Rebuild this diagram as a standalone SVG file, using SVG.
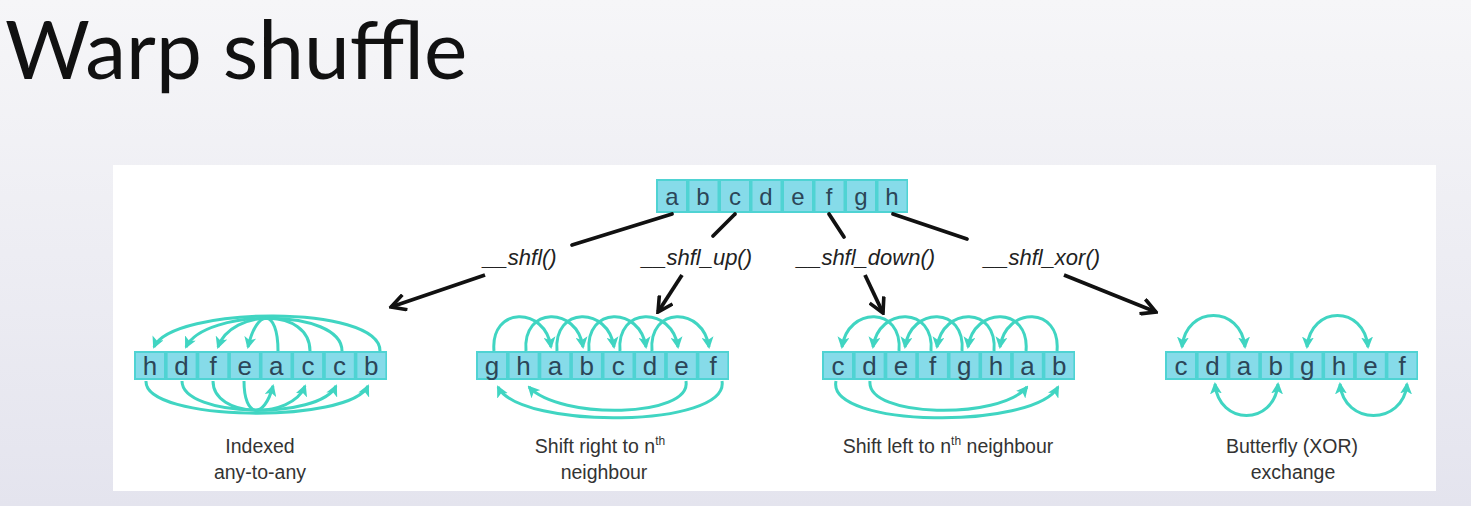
<svg xmlns="http://www.w3.org/2000/svg" width="1471" height="506" viewBox="0 0 1471 506">
<defs>
<linearGradient id="bg" x1="0" y1="0" x2="0" y2="1">
<stop offset="0" stop-color="#f6f6f8"/>
<stop offset="1" stop-color="#e4e4ee"/>
</linearGradient>
<marker id="ta" viewBox="0 0 12 12" refX="10" refY="6" markerWidth="12" markerHeight="12" markerUnits="userSpaceOnUse" orient="auto-start-reverse">
<path d="M0,0 L12,6 L0,12 L3,6 z" fill="#40d5c2"/>
</marker>
<marker id="ba" viewBox="0 0 16 16" refX="14" refY="8" markerWidth="18" markerHeight="18" markerUnits="userSpaceOnUse" orient="auto">
<path d="M1,1 L14,8 L1,15" fill="none" stroke="#111" stroke-width="3.2" stroke-linejoin="miter"/>
</marker>
</defs>
<style>
.cellbox{fill:#4fd3d3}
.cell{fill:#86dbe9}
.lt{font-family:"Liberation Sans",Arial,sans-serif;fill:#2c4658;text-anchor:middle}
.lt1{font-size:24px}
.lt2{font-size:26px}
.arc{fill:none;stroke:#40d5c2;stroke-width:3;marker-end:url(#ta)}
.arc2{fill:none;stroke:#40d5c2;stroke-width:3;marker-end:url(#ta);marker-start:url(#ta)}
.con{stroke:#111;stroke-width:3.8;fill:none;stroke-linecap:round}
.arw{stroke:#111;stroke-width:3.8;fill:none;marker-end:url(#ba)}
.fn{font-family:"Liberation Sans",Arial,sans-serif;font-style:italic;font-size:22px;fill:#222;text-anchor:middle}
.cap{font-family:"Liberation Sans",Arial,sans-serif;font-size:19.5px;fill:#333;text-anchor:middle}
.sup{font-size:12px}
</style>
<rect width="1471" height="506" fill="url(#bg)"/>
<text x="5" y="79" font-family="Lato,'Open Sans',sans-serif" font-size="82" fill="#111">Warp shuffle</text>
<rect x="113" y="165" width="1323" height="326" fill="#ffffff"/>

<g id="source">
<rect class="cellbox" x="656" y="179" width="252" height="34"/>
<rect class="cell" x="658" y="181" width="28" height="30"/>
<rect class="cell" x="689.5" y="181" width="28" height="30"/>
<rect class="cell" x="721" y="181" width="28" height="30"/>
<rect class="cell" x="752.5" y="181" width="28" height="30"/>
<rect class="cell" x="784" y="181" width="28" height="30"/>
<rect class="cell" x="815.5" y="181" width="28" height="30"/>
<rect class="cell" x="847" y="181" width="28" height="30"/>
<rect class="cell" x="878.5" y="181" width="28" height="30"/>
<text class="lt lt1" y="204.5"><tspan x="672">a</tspan><tspan x="703">b</tspan><tspan x="735">c</tspan><tspan x="766">d</tspan><tspan x="798">e</tspan><tspan x="829">f</tspan><tspan x="861">g</tspan><tspan x="892">h</tspan></text>
</g>

<g id="connectors">
<line class="con" x1="672" y1="214" x2="572" y2="245"/>
<line class="con" x1="735" y1="214" x2="713" y2="236"/>
<line class="con" x1="829" y1="214" x2="844" y2="237"/>
<line class="con" x1="893" y1="214" x2="967" y2="239"/>
<line class="arw" x1="485" y1="275" x2="391" y2="307"/>
<line class="arw" x1="682" y1="275" x2="658" y2="312"/>
<line class="arw" x1="865" y1="275" x2="883" y2="313"/>
<line class="arw" x1="1064" y1="275" x2="1156" y2="312"/>
<text class="fn" x="520" y="265">__shfl()</text>
<text class="fn" x="697" y="265">__shfl_up()</text>
<text class="fn" x="866" y="265">__shfl_down()</text>
<text class="fn" x="1042" y="265">__shfl_xor()</text>
</g>

<g id="indexed">
<rect class="cellbox" x="134" y="351" width="253" height="29"/>
<rect class="cell" x="136" y="353" width="28" height="25"/>
<rect class="cell" x="167.6" y="353" width="28" height="25"/>
<rect class="cell" x="199.3" y="353" width="28" height="25"/>
<rect class="cell" x="230.9" y="353" width="28" height="25"/>
<rect class="cell" x="262.5" y="353" width="28" height="25"/>
<rect class="cell" x="294.1" y="353" width="28" height="25"/>
<rect class="cell" x="325.8" y="353" width="28" height="25"/>
<rect class="cell" x="357.4" y="353" width="28" height="25"/>
<text class="lt lt2" y="375"><tspan x="150">h</tspan><tspan x="181.4">d</tspan><tspan x="213.1">f</tspan><tspan x="244.7">e</tspan><tspan x="276.3">a</tspan><tspan x="307.9">c</tspan><tspan x="339.6">c</tspan><tspan x="371.2">b</tspan></text>
<path class="arc" d="M380 351 C380 304,172 306,154 347"/>
<path class="arc" d="M342 351 C342 308,205 308,186 347"/>
<path class="arc" d="M310 351 C310 308,232 308,218 347"/>
<path class="arc" d="M278 351 C278 308,257 308,248 347"/>
<path class="arc" d="M146 381 C144 422,350 424,368 386"/>
<path class="arc" d="M182 381 C182 418,320 420,336 386"/>
<path class="arc" d="M213 381 C213 418,292 420,305 386"/>
<path class="arc" d="M244 381 C244 418,264 420,273 386"/>
<text class="cap" x="260" y="453">Indexed</text>
<text class="cap" x="260" y="479">any-to-any</text>
</g>

<g id="shift-up">
<rect class="cellbox" x="476" y="351" width="253" height="29"/>
<rect class="cell" x="478" y="353" width="28" height="25"/>
<rect class="cell" x="509.6" y="353" width="28" height="25"/>
<rect class="cell" x="541.3" y="353" width="28" height="25"/>
<rect class="cell" x="572.9" y="353" width="28" height="25"/>
<rect class="cell" x="604.5" y="353" width="28" height="25"/>
<rect class="cell" x="636.1" y="353" width="28" height="25"/>
<rect class="cell" x="667.8" y="353" width="28" height="25"/>
<rect class="cell" x="699.4" y="353" width="28" height="25"/>
<text class="lt lt2" y="375"><tspan x="492">g</tspan><tspan x="523.4">h</tspan><tspan x="555.1">a</tspan><tspan x="586.7">b</tspan><tspan x="618.3">c</tspan><tspan x="649.9">d</tspan><tspan x="681.6">e</tspan><tspan x="713.2">f</tspan></text>
<path class="arc" d="M494 351 C490 306,545 306,551 347"/>
<path class="arc" d="M526 351 C522 306,577 306,583 347"/>
<path class="arc" d="M557 351 C553 306,608 306,614 347"/>
<path class="arc" d="M589 351 C585 306,640 306,646 347"/>
<path class="arc" d="M620 351 C616 306,672 306,678 347"/>
<path class="arc" d="M652 351 C648 306,703 306,709 347"/>
<path class="arc" d="M722 381 C730 428,520 430,498 387"/>
<path class="arc" d="M686 381 C692 418,560 420,529 387"/>
<text class="cap" x="600" y="453">Shift right to n<tspan class="sup" dy="-8">th</tspan></text>
<text class="cap" x="604" y="479">neighbour</text>
</g>

<g id="shift-down">
<rect class="cellbox" x="822" y="351" width="253" height="29"/>
<rect class="cell" x="824" y="353" width="28" height="25"/>
<rect class="cell" x="855.6" y="353" width="28" height="25"/>
<rect class="cell" x="887.3" y="353" width="28" height="25"/>
<rect class="cell" x="918.9" y="353" width="28" height="25"/>
<rect class="cell" x="950.5" y="353" width="28" height="25"/>
<rect class="cell" x="982.1" y="353" width="28" height="25"/>
<rect class="cell" x="1013.8" y="353" width="28" height="25"/>
<rect class="cell" x="1045.4" y="353" width="28" height="25"/>
<text class="lt lt2" y="375"><tspan x="838">c</tspan><tspan x="869.4">d</tspan><tspan x="901.1">e</tspan><tspan x="932.7">f</tspan><tspan x="964.3">g</tspan><tspan x="995.9">h</tspan><tspan x="1027.6">a</tspan><tspan x="1059.2">b</tspan></text>
<path class="arc" d="M899 351 C903 306,848 306,842 347"/>
<path class="arc" d="M931 351 C935 306,879 306,873 347"/>
<path class="arc" d="M962 351 C966 306,911 306,905 347"/>
<path class="arc" d="M994 351 C998 306,943 306,937 347"/>
<path class="arc" d="M1026 351 C1030 306,974 306,968 347"/>
<path class="arc" d="M1057 351 C1061 306,1006 306,1000 347"/>
<path class="arc" d="M836 381 C826 428,1034 430,1058 387"/>
<path class="arc" d="M870 381 C866 418,1000 420,1027 387"/>
<text class="cap" x="948" y="453">Shift left to n<tspan class="sup" dy="-8">th</tspan><tspan dy="8"> neighbour</tspan></text>
</g>

<g id="butterfly">
<rect class="cellbox" x="1165" y="351" width="253" height="29"/>
<rect class="cell" x="1167" y="353" width="28" height="25"/>
<rect class="cell" x="1198.6" y="353" width="28" height="25"/>
<rect class="cell" x="1230.3" y="353" width="28" height="25"/>
<rect class="cell" x="1261.9" y="353" width="28" height="25"/>
<rect class="cell" x="1293.5" y="353" width="28" height="25"/>
<rect class="cell" x="1325.1" y="353" width="28" height="25"/>
<rect class="cell" x="1356.8" y="353" width="28" height="25"/>
<rect class="cell" x="1388.4" y="353" width="28" height="25"/>
<text class="lt lt2" y="375"><tspan x="1181">c</tspan><tspan x="1212.4">d</tspan><tspan x="1244.1">a</tspan><tspan x="1275.7">b</tspan><tspan x="1307.3">g</tspan><tspan x="1338.9">h</tspan><tspan x="1370.6">e</tspan><tspan x="1402.2">f</tspan></text>
<path class="arc2" d="M1182 347 C1186 305,1241 305,1245 347"/>
<path class="arc2" d="M1307 347 C1311 305,1364 305,1368 347"/>
<path class="arc2" d="M1215 384 C1219 426,1274 426,1278 384"/>
<path class="arc2" d="M1340 384 C1344 426,1403 426,1407 384"/>
<text class="cap" x="1292" y="453">Butterfly (XOR)</text>
<text class="cap" x="1293" y="479">exchange</text>
</g>
</svg>
